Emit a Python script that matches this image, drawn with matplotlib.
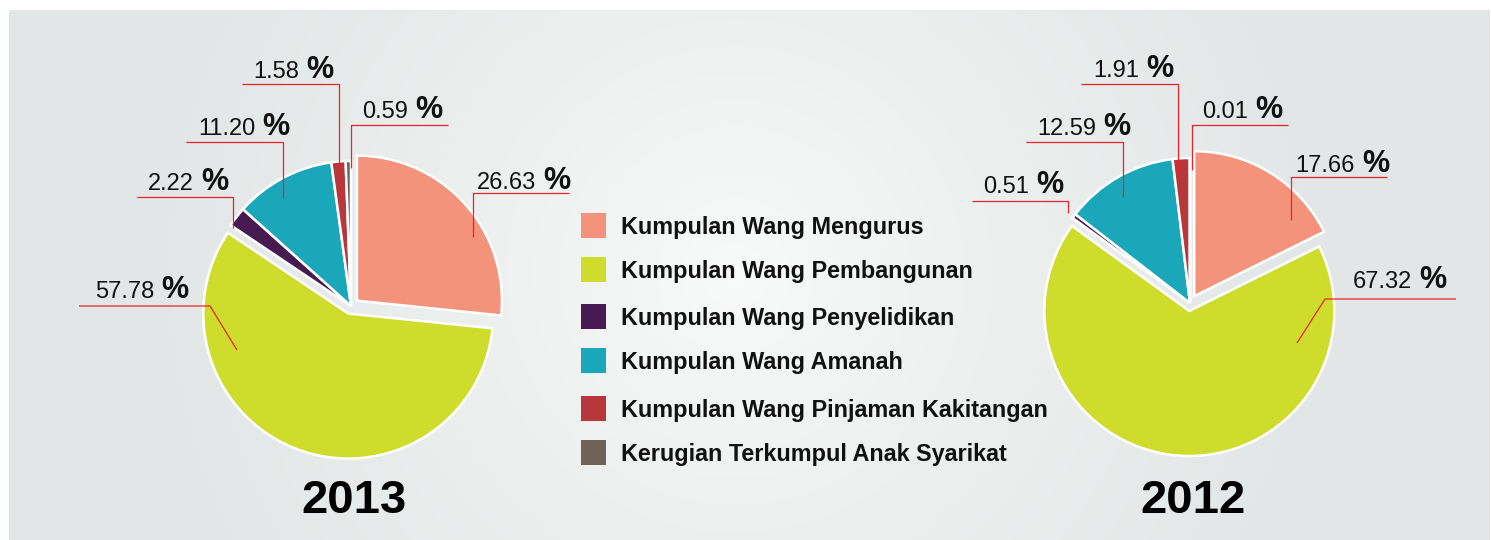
import numpy as np
import matplotlib
matplotlib.use("Agg")
import matplotlib.pyplot as plt
from matplotlib.patches import Rectangle

# ---- data ----
categorias = [
    "Kumpulan Wang Mengurus",
    "Kumpulan Wang Pembangunan",
    "Kumpulan Wang Penyelidikan",
    "Kumpulan Wang Amanah",
    "Kumpulan Wang Pinjaman Kakitangan",
    "Kerugian Terkumpul Anak Syarikat",
]
nilai_2013 = [26.63, 57.78, 2.22, 11.20, 1.58, 0.59]
nilai_2012 = [17.66, 67.32, 0.51, 12.59, 1.91, 0.01]
tahun = ["2013", "2012"]

warna = ["#F4937B", "#CEDC2B", "#481A52", "#1BA7BA", "#B8373A", "#6E6356"]
MERAH = "#E8232B"

# ---- layout (pixel coordinates, measured from the top) ----
W, H = 1491, 540
R = 145
pusat = {"2013": (351, 306), "2012": (1190, 303)}
letupan = [8, 8, 0, 0, 0, 0]   # offset in pixels

# label: (x of the "%" sign, baseline y, leader polyline)
label_2013 = [
    (543, 189, [(569, 193), (473, 193), (473, 237)]),
    (161, 298, [(79, 306), (210, 306), (237, 350)]),
    (201, 190, [(137, 197), (233, 197), (233, 228)]),
    (262, 135, [(186, 142), (283, 142), (283, 198)]),
    (306, 78, [(242, 84), (339, 84), (339, 172)]),
    (415, 118, [(448, 125), (351, 125), (351, 168)]),
]
label_2012 = [
    (1362, 172, [(1387, 177), (1291, 177), (1291, 220)]),
    (1419, 288, [(1456, 299), (1325, 299), (1297, 343)]),
    (1036, 193, [(972, 201), (1068, 201), (1068, 213)]),
    (1103, 135, [(1026, 142), (1123, 142), (1123, 197)]),
    (1146, 77, [(1081, 84), (1178, 84), (1178, 172)]),
    (1255, 118, [(1288, 125), (1192, 125), (1192, 170)]),
]
legend_x = 581
legend_y = [225, 269, 316, 360, 408, 452]

plt.rcParams['font.family'] = ['Liberation Sans', 'DejaVu Sans']


def fy(y):
    return H - y


fig = plt.figure(figsize=(W / 100, H / 100), dpi=100, facecolor="white")
ax = fig.add_axes([0, 0, 1, 1])

# background panel with a soft radial glow
yy, xx = np.mgrid[0:530, 0:1481]
d = np.hypot(xx + 9 - 735, yy + 10 - 275)
t = np.clip(d / 600, 0, 1) ** 0.8
c0 = np.array([0.978, 0.980, 0.980])
c1 = np.array([0.890, 0.902, 0.902])
img = c0 + (c1 - c0) * t[..., None]
ax.imshow(img, extent=(9, 1490, 0, 530), origin="upper", zorder=0, interpolation="bilinear")


def gambar_pie(nilai, thn, labels):
    cx, cy = pusat[thn]
    ax.pie(nilai, colors=warna, explode=letupan, startangle=90, counterclock=False,
           center=(cx, fy(cy)), radius=R, frame=True,
           wedgeprops=dict(edgecolor="white", linewidth=1.8))
    for v, (px, by, garis) in zip(nilai, labels):
        xs = [p[0] for p in garis]
        ys = [fy(p[1]) for p in garis]
        ax.plot(xs, ys, color=MERAH, lw=0.9, zorder=5, solid_capstyle="butt")
        ax.text(px - 7, fy(by), f"{v:.2f}", ha="right", va="baseline",
                fontsize=17, color="#111111", zorder=6)
        ax.text(px, fy(by), "%", ha="left", va="baseline",
                fontsize=22, fontweight="bold", color="#111111", zorder=6)
    ax.text(cx + 3, fy(513), thn, ha="center", va="baseline",
            fontsize=34, fontweight="bold", color="black")


gambar_pie(nilai_2013, tahun[0], label_2013)
gambar_pie(nilai_2012, tahun[1], label_2012)

# legend
for nama, c, ly in zip(categorias, warna, legend_y):
    ax.add_patch(Rectangle((legend_x, fy(ly) - 12.5), 25, 25, facecolor=c, edgecolor="none", zorder=4))
    ax.text(legend_x + 40, fy(ly), nama, ha="left", va="center_baseline",
            fontsize=16.8, fontweight="bold", color="#111111")

ax.set_xlim(0, W)
ax.set_ylim(0, H)
ax.set_aspect("equal")
ax.axis("off")

fig.savefig("out.png", dpi=100, facecolor="white")
